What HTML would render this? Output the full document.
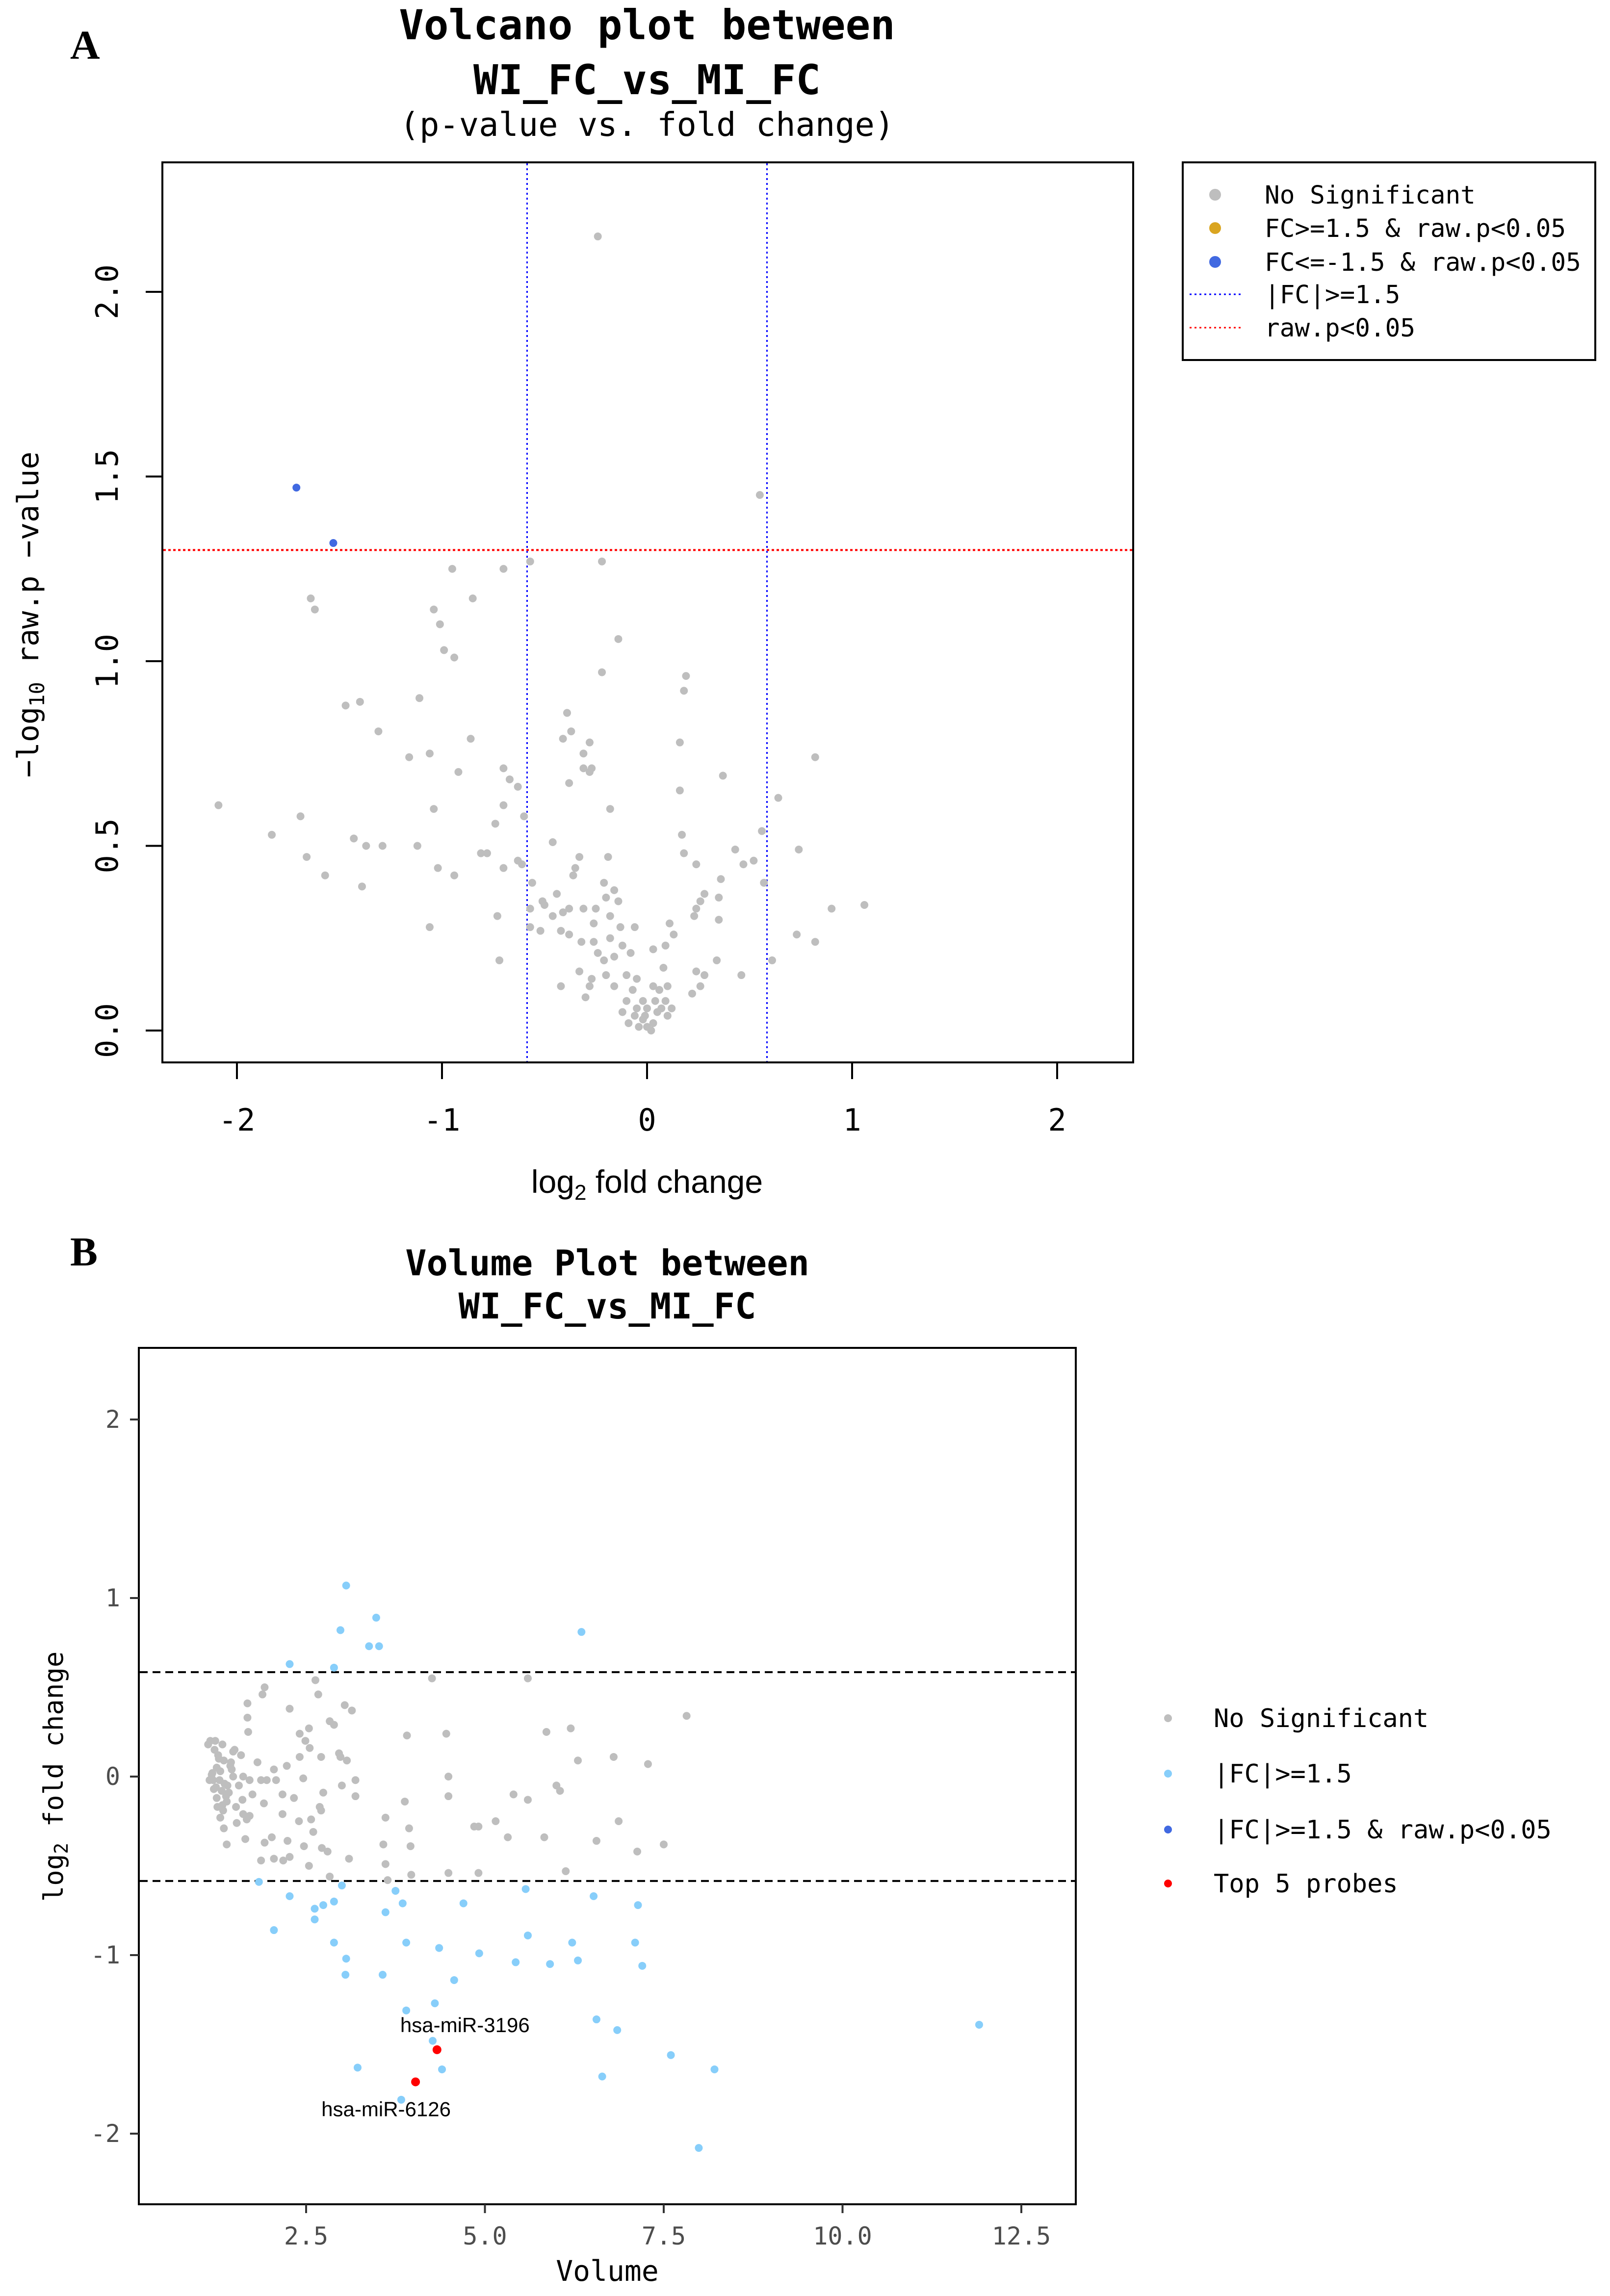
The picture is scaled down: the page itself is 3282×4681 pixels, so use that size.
<!DOCTYPE html>
<html><head><meta charset="utf-8"><style>
html,body{margin:0;padding:0;background:#fff;}
svg{display:block;}
.mono{font-family:"DejaVu Sans Mono","Liberation Mono",monospace;}
.sans{font-family:"Liberation Sans",sans-serif;}
.serif{font-family:"Liberation Serif",serif;font-weight:bold;}
</style></head><body>
<svg id="fig" width="3282" height="4681" viewBox="0 0 3282 4681" xmlns="http://www.w3.org/2000/svg">
<text x="143" y="120" class="serif" font-size="84">A</text>
<g class="mono" text-anchor="middle">
<text x="1319" y="80" font-size="84" font-weight="bold">Volcano plot between</text>
<text x="1319" y="192" font-size="84" font-weight="bold">WI_FC_vs_MI_FC</text>
<text x="1319" y="277" font-size="67">(p-value vs. fold change)</text>
</g>
<rect x="331" y="331" width="1979" height="1835" fill="none" stroke="#000" stroke-width="4"/>
<g id="volA"></g>
<g id="axA"></g>
<text x="1319" y="2432" class="sans" font-size="66" text-anchor="middle">log<tspan font-size="44" dy="14">2</tspan><tspan dy="-14"> fold change</tspan></text>
<text transform="translate(78,1253) rotate(-90)" class="mono" font-size="60" text-anchor="middle">−log<tspan font-size="42" dy="12">10</tspan><tspan dy="-12"> raw.p −value</tspan></text>
<g>
<rect x="2411" y="331" width="841" height="403" fill="#fff" stroke="#000" stroke-width="4"/>
<g class="mono" font-size="51">
<circle cx="2477" cy="397" r="12" fill="#bebebe"/><text x="2578" y="415">No Significant</text>
<circle cx="2477" cy="465" r="12" fill="#daa520"/><text x="2578" y="483">FC&gt;=1.5 &amp; raw.p&lt;0.05</text>
<circle cx="2477" cy="534" r="12" fill="#4169e1"/><text x="2578" y="552">FC&lt;=-1.5 &amp; raw.p&lt;0.05</text>
<line x1="2425" y1="600" x2="2530" y2="600" stroke="#0000ff" stroke-width="3" stroke-dasharray="4,6"/><text x="2578" y="618">|FC|&gt;=1.5</text>
<line x1="2425" y1="668" x2="2530" y2="668" stroke="#ff0000" stroke-width="3" stroke-dasharray="4,6"/><text x="2578" y="686">raw.p&lt;0.05</text>
</g></g>

<text x="143" y="2580" class="serif" font-size="84">B</text>
<g class="mono" text-anchor="middle" font-weight="bold" font-size="72">
<text x="1238" y="2600">Volume Plot between</text>
<text x="1238" y="2688">WI_FC_vs_MI_FC</text>
</g>
<rect x="283" y="2748" width="1910" height="1746" fill="none" stroke="#000" stroke-width="4"/>
<g id="volB"></g>
<g id="axB"></g>
<text x="1238" y="4650" class="mono" font-size="58" text-anchor="middle">Volume</text>
<text transform="translate(128,3622) rotate(-90)" class="mono" font-size="54" text-anchor="middle">log<tspan font-size="38" dy="10">2</tspan><tspan dy="-10"> fold change</tspan></text>
<g class="mono" font-size="52">
<circle cx="2381" cy="3503" r="8" fill="#bebebe"/><text x="2474" y="3521">No Significant</text>
<circle cx="2381" cy="3616" r="8" fill="#87cefa"/><text x="2474" y="3634">|FC|&gt;=1.5</text>
<circle cx="2381" cy="3730" r="8" fill="#4169e1"/><text x="2474" y="3748">|FC|&gt;=1.5 &amp; raw.p&lt;0.05</text>
<circle cx="2381" cy="3840" r="8" fill="#ff0000"/><text x="2474" y="3858">Top 5 probes</text>
</g>
</svg>
<script>
const volcanoGrayFC = [-0.24,0.55,-0.57,-0.22,-0.95,-0.7,-1.64,-1.62,-1.04,-1.01,-0.85,-0.99,-0.94,-0.14,-0.22,0.19,0.18,-1.11,-1.47,-1.40,-0.39,-0.37,-0.28,-0.86,-1.31,-0.41,-1.16,-1.06,-0.31,-0.27,0.16,0.82,-0.7,-0.31,-0.28,-0.92,-0.67,-0.63,-0.38,0.37,0.64,0.16,-1.04,-0.7,-0.18,-0.6,-2.09,-1.69,-0.74,-1.83,-1.43,-1.37,-1.29,-1.12,-0.46,0.17,0.56,0.18,0.43,0.74,-0.81,-0.78,-0.63,-0.33,-0.19,-1.66,-1.02,-0.94,-0.70,-0.61,-0.35,-0.36,0.52,0.47,0.24,-1.57,-1.39,-0.56,0.36,0.57,-0.51,-0.44,-0.21,-0.2,-0.16,-0.14,0.26,1.06,0.9,-0.57,-0.50,-0.46,-0.41,-0.38,-0.31,-0.25,-0.18,0.24,0.23,0.35,0.28,0.35,-0.73,-1.06,-0.57,-0.52,-0.42,-0.26,-0.13,-0.06,0.11,0.13,0.09,0.73,0.82,-0.38,-0.32,-0.26,-0.18,-0.12,-0.24,-0.21,-0.16,-0.08,0.03,-0.72,0.34,0.61,-0.33,-0.27,-0.2,-0.1,-0.05,0.08,0.24,0.28,0.46,-0.42,-0.28,-0.16,-0.07,0.03,0.1,0.26,0.22,-0.3,-0.1,-0.02,0.04,0.06,0.09,0.0,0.05,0.1,-0.12,-0.06,-0.02,0.03,-0.09,-0.04,0.0,0.02,-0.01,0.07,0.12,-0.05];
const volcanoGrayP = [2.15,1.45,1.27,1.27,1.25,1.25,1.17,1.14,1.14,1.10,1.17,1.03,1.01,1.06,0.97,0.96,0.92,0.90,0.88,0.89,0.86,0.81,0.78,0.79,0.81,0.79,0.74,0.75,0.75,0.71,0.78,0.74,0.71,0.71,0.70,0.70,0.68,0.66,0.67,0.69,0.63,0.65,0.60,0.61,0.60,0.58,0.61,0.58,0.56,0.53,0.52,0.50,0.50,0.50,0.51,0.53,0.54,0.48,0.49,0.49,0.48,0.48,0.46,0.47,0.47,0.47,0.44,0.42,0.44,0.45,0.44,0.42,0.46,0.45,0.45,0.42,0.39,0.40,0.41,0.40,0.35,0.37,0.40,0.36,0.38,0.35,0.35,0.34,0.33,0.33,0.34,0.31,0.32,0.33,0.33,0.33,0.31,0.33,0.31,0.30,0.37,0.36,0.31,0.28,0.28,0.27,0.27,0.29,0.28,0.28,0.29,0.26,0.23,0.26,0.24,0.26,0.24,0.24,0.25,0.23,0.21,0.19,0.20,0.21,0.22,0.19,0.19,0.19,0.16,0.14,0.15,0.15,0.14,0.17,0.16,0.15,0.15,0.12,0.12,0.12,0.11,0.12,0.12,0.12,0.10,0.09,0.08,0.08,0.08,0.11,0.08,0.06,0.05,0.04,0.05,0.04,0.03,0.02,0.02,0.01,0.01,0.0,0.04,0.06,0.06,0.06];
const volcanoSigFC = [-1.71,-1.53];
const volcanoSigP = [1.47,1.32];
const volcanoXTicks = [-2,-1,0,1,2];
const volcanoYTicks = [0.0,0.5,1.0,1.5,2.0];
const fcCut = Math.log2(1.5);
const pCut = -Math.log10(0.05);

const volumeGrayVol = [4.26,5.6,7.82,5.86,6.2,4.46,3.91,6.3,6.8,7.28,4.49,4.49,3.88,5.4,5.6,6.0,6.05,6.87,5.15,4.85,4.91,5.32,5.83,6.56,7.13,7.5,3.61,3.94,3.58,3.96,3.61,3.97,4.49,4.91,6.13,3.64,1.92,1.89,1.68,1.68,1.69,2.27,2.63,2.67,3.04,3.14,2.83,2.89,2.54,2.41,2.49,2.96,2.98,3.07,2.71,2.55,2.41,2.23,2.05,1.82,2.08,3.19,3.0,3.19,2.74,2.46,2.17,2.33,1.91,2.17,2.69,2.71,2.4,2.57,2.6,2.24,2.02,1.92,2.72,2.8,2.47,1.87,2.05,2.18,2.27,2.54,3.1,2.83,1.39,1.65,1.35,1.53,1.62,1.52,1.3,1.39,1.25,1.32,1.15,1.19,1.25,1.35,1.48,1.59,1.45,1.48,1.62,1.71,1.56,1.4,1.75,1.71,1.67,1.16,1.23,1.33,1.13,1.5,1.22,1.28,1.2,1.29,1.42,1.33,1.26,1.61,1.95,1.87,1.3,1.36,1.44,1.21,1.27,1.38,1.18,1.34,1.46,1.24];
const volumeGrayFC = [0.55,0.55,0.34,0.25,0.27,0.24,0.23,0.09,0.11,0.07,0.0,-0.11,-0.14,-0.1,-0.13,-0.05,-0.08,-0.25,-0.25,-0.28,-0.28,-0.34,-0.34,-0.36,-0.42,-0.38,-0.23,-0.29,-0.38,-0.39,-0.49,-0.55,-0.54,-0.54,-0.53,-0.58,0.5,0.46,0.41,0.33,0.25,0.38,0.54,0.46,0.40,0.37,0.31,0.29,0.27,0.24,0.2,0.13,0.11,0.09,0.11,0.16,0.11,0.06,0.04,0.08,-0.02,-0.02,-0.05,-0.11,-0.09,-0.01,-0.1,-0.12,-0.15,-0.21,-0.17,-0.19,-0.25,-0.24,-0.31,-0.36,-0.34,-0.37,-0.4,-0.42,-0.39,-0.47,-0.46,-0.47,-0.45,-0.5,-0.46,-0.56,-0.38,-0.35,-0.29,-0.26,-0.21,-0.17,-0.23,-0.14,-0.12,-0.08,-0.02,0.02,0.05,0.09,0.14,0.12,0.08,0.0,0.0,-0.02,-0.05,-0.05,-0.1,-0.22,-0.24,0.2,0.2,0.18,0.18,0.15,0.15,0.1,-0.02,-0.02,-0.09,-0.16,-0.17,-0.13,-0.02,-0.02,0.03,-0.04,0.06,-0.07,0.12,-0.11,0.01,-0.19,0.04,-0.06];
const volumeBlueVol = [3.06,2.98,3.48,3.38,3.52,2.27,2.89,6.35,1.84,2.27,2.05,2.62,2.62,2.74,2.89,3.0,2.89,3.06,3.05,3.57,3.61,3.75,3.85,3.9,4.36,4.92,4.7,4.57,5.43,5.91,5.57,5.6,6.22,6.3,6.52,7.1,7.14,7.2,3.9,4.3,4.27,4.4,3.22,3.83,6.56,6.85,6.64,7.6,8.21,7.99,11.91];
const volumeBlueFC = [1.07,0.82,0.89,0.73,0.73,0.63,0.61,0.81,-0.59,-0.67,-0.86,-0.74,-0.80,-0.72,-0.70,-0.61,-0.93,-1.02,-1.11,-1.11,-0.76,-0.64,-0.71,-0.93,-0.96,-0.99,-0.71,-1.14,-1.04,-1.05,-0.63,-0.89,-0.93,-1.03,-0.67,-0.93,-0.72,-1.06,-1.31,-1.27,-1.48,-1.64,-1.63,-1.81,-1.36,-1.42,-1.68,-1.56,-1.64,-2.08,-1.39];
const topProbeNames = ["hsa-miR-3196","hsa-miR-6126"];
const topProbeVol = [4.33,4.03];
const topProbeFC = [-1.53,-1.71];
const volumeXTicks = [2.5,5.0,7.5,10.0,12.5];
const volumeXTickLabels = ["2.5","5.0","7.5","10.0","12.5"];
const volumeYTicks = [2,1,0,-1,-2];

const NS = "http://www.w3.org/2000/svg";
function mk(tag, attrs, parent){const e=document.createElementNS(NS,tag);for(const k in attrs)e.setAttribute(k,attrs[k]);parent.appendChild(e);return e;}

const xA = v => 1319 + v*418;
const yA = v => 2101 - v*753;
const gA = document.getElementById('volA');
const axA = document.getElementById('axA');
[-fcCut, fcCut].forEach(v=>{
  const l = mk('line',{x1:xA(v),x2:xA(v),y1:333,y2:2164,stroke:'#0000ff','stroke-width':3,'stroke-dasharray':'4,6'},gA);
  
  
});
{
  const l = mk('line',{x1:333,x2:2308,y1:yA(pCut),y2:yA(pCut),stroke:'#ff0000','stroke-width':4,'stroke-dasharray':'5,5'},gA);
  
  
}
volcanoGrayFC.forEach((v,i)=>{
  const c = mk('circle',{cx:xA(v),cy:yA(volcanoGrayP[i]),r:8,fill:'#bebebe'},gA);
  
  
});
volcanoSigFC.forEach((v,i)=>{
  const c = mk('circle',{cx:xA(v),cy:yA(volcanoSigP[i]),r:8,fill:'#4169e1'},gA);
  
  
});
volcanoXTicks.forEach(t=>{
  mk('line',{x1:xA(t),x2:xA(t),y1:2166,y2:2200,stroke:'#000','stroke-width':4},axA);
  const tx = mk('text',{x:xA(t),y:2305,'text-anchor':'middle','font-size':62,class:'mono'},axA);
  tx.textContent = String(t);
  
  
});
volcanoYTicks.forEach(t=>{
  mk('line',{x1:297,x2:331,y1:yA(t),y2:yA(t),stroke:'#000','stroke-width':4},axA);
  const tx = mk('text',{transform:`translate(240,${yA(t)}) rotate(-90)`,'text-anchor':'middle','font-size':62,class:'mono'},axA);
  tx.textContent = t.toFixed(1);
  
  
});

const xB = v => 624 + (v-2.5)*145.8;
const yB = v => 3622 - v*364;
const gB = document.getElementById('volB');
const axB = document.getElementById('axB');
[fcCut,-fcCut].forEach(v=>{
  const l = mk('line',{x1:285,x2:2191,y1:yB(v),y2:yB(v),stroke:'#000','stroke-width':4,'stroke-dasharray':'16,10'},gB);
  
  
});
volumeGrayVol.forEach((v,i)=>{
  const c = mk('circle',{cx:xB(v),cy:yB(volumeGrayFC[i]),r:8,fill:'#bebebe'},gB);
  
  
});
volumeBlueVol.forEach((v,i)=>{
  const c = mk('circle',{cx:xB(v),cy:yB(volumeBlueFC[i]),r:8,fill:'#87cefa'},gB);
  
  
});
topProbeVol.forEach((v,i)=>{
  const c = mk('circle',{cx:xB(v),cy:yB(topProbeFC[i]),r:9,fill:'#ff0000'},gB);
  
  
  const above = i===0;
  const t = mk('text',{x:xB(v)+(above?57:-60),y:yB(topProbeFC[i])+(above?-36:70),'text-anchor':'middle','font-size':42,class:'sans'},gB);
  t.textContent = topProbeNames[i];
  
  
});
volumeXTicks.forEach((t,i)=>{
  mk('line',{x1:xB(t),x2:xB(t),y1:4494,y2:4512,stroke:'#333','stroke-width':4},axB);
  const tx = mk('text',{x:xB(t),y:4576,'text-anchor':'middle','font-size':50,fill:'#4d4d4d',class:'mono'},axB);
  tx.textContent = volumeXTickLabels[i];
  
  
});
volumeYTicks.forEach(t=>{
  mk('line',{x1:265,x2:283,y1:yB(t),y2:yB(t),stroke:'#333','stroke-width':4},axB);
  const tx = mk('text',{x:245,y:yB(t)+17,'text-anchor':'end','font-size':50,fill:'#4d4d4d',class:'mono'},axB);
  tx.textContent = String(t);
  
  
});
</script>
</body></html>
